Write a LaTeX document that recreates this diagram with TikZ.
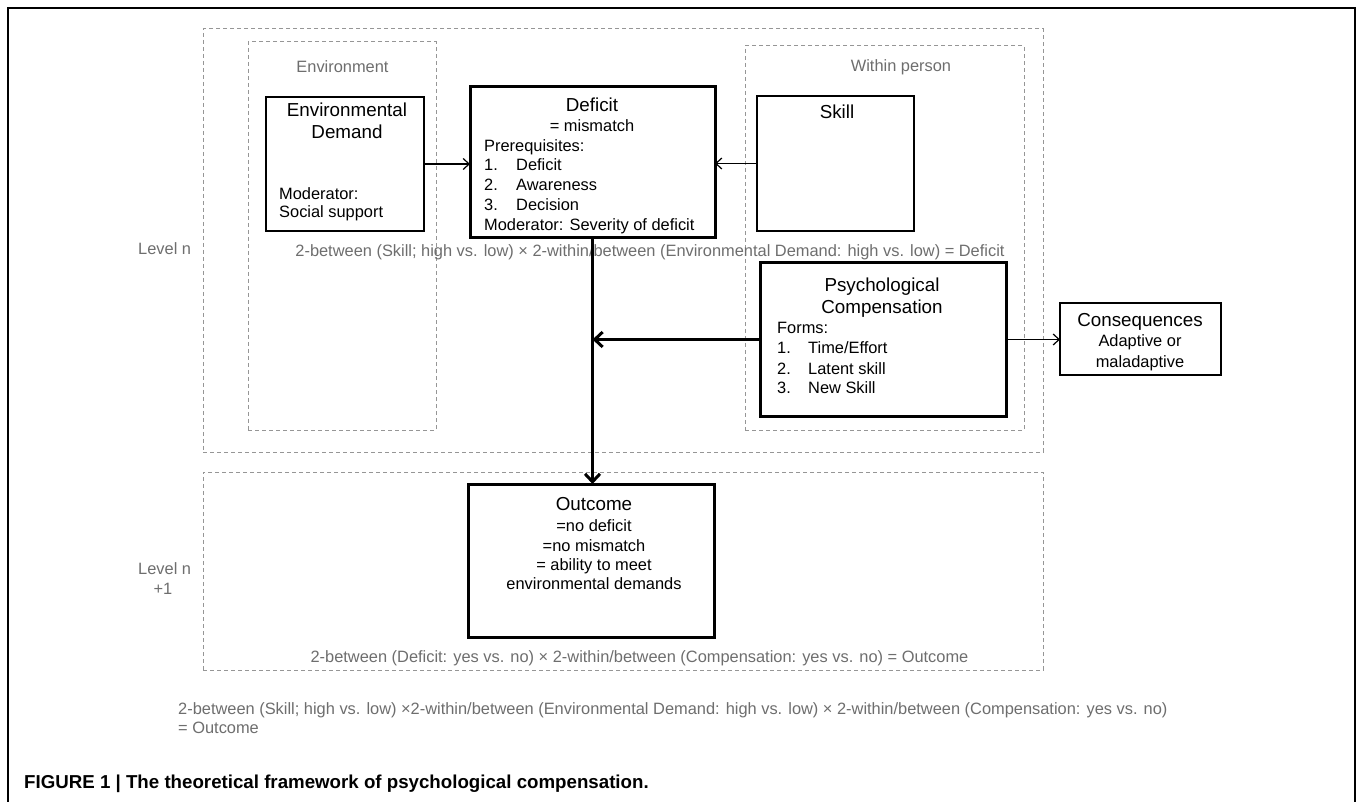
\documentclass[tikz,border=0pt]{standalone}
\usepackage{fontspec}
\setmainfont{Liberation Sans}
\usetikzlibrary{arrows.meta}
\definecolor{lblgray}{RGB}{110,110,110}
\definecolor{dashgray}{RGB}{150,150,150}
\begin{document}
\begin{tikzpicture}[x=1pt,y=-1pt,
  dbox/.style={draw=dashgray, line width=1pt, dash pattern=on 4pt off 3pt, inner sep=0pt, outer sep=0pt},
  thinbox/.style={draw=black, line width=1.2pt, inner sep=0pt, outer sep=0pt},
  thickbox/.style={draw=black, line width=3pt, inner sep=0pt, outer sep=0pt},
  title/.style={font=\fontsize{18.8}{22}\selectfont, anchor=base, inner sep=0pt},
  body/.style={font=\fontsize{16.4}{19}\selectfont, anchor=base, inner sep=0pt},
  bodyl/.style={body, anchor=base west},
  glabel/.style={font=\fontsize{16.4}{19}\selectfont, text=lblgray, anchor=base, inner sep=0pt},
  glabell/.style={glabel, anchor=base west},
  thinarrow/.style={line width=1.2pt, -{Straight Barb[length=6pt,width=11pt]}},
  thickarrow/.style={line width=3pt, -{Straight Barb[length=8pt,width=15pt]}},
]
\useasboundingbox (0,0) rectangle (1358,802);
\fill[white] (0,0) rectangle (1358,802);
% outer frame
\draw[line width=2.2pt] (8,830) -- (8,8) -- (1355,8) -- (1355,830);

% dashed containers
\node[dbox, minimum width=840pt, minimum height=423pt] (leveln) at (623,240.5) {};
\node[dbox, minimum width=840pt, minimum height=198pt] (levelnn) at (623,571) {};
\node[dbox, minimum width=188pt, minimum height=388pt] (env) at (342,236) {};
\node[dbox, minimum width=279pt, minimum height=384pt] (within) at (884.5,238) {};

% gray labels
\node[glabel] (envlbl) at (342.5,73) {Environment};
\node[glabel] (withinlbl) at (901,72) {Within person};
\node[glabell] (lvl1) at (138,255) {Level n};
\node[glabell] (lvl2a) at (138,574) {Level n};
\node[glabel] (lvl2b) at (163,594) {+1};
\node[glabel] (f1) at (650,257) {2-between (Skill; high vs. low) × 2-within/between (Environmental Demand: high vs. low) = Deficit};
\node[glabel] (f2) at (639.5,662) {2-between (Deficit: yes vs. no) × 2-within/between (Compensation: yes vs. no) = Outcome};
\node[glabell] (f3a) at (178,714) {2-between (Skill; high vs. low) ×2-within/between (Environmental Demand: high vs. low) × 2-within/between (Compensation: yes vs. no)};
\node[glabell] (f3b) at (178,733) {= Outcome};

% boxes
\node[thinbox, minimum width=158pt, minimum height=134pt] (envd) at (345,164) {};
\node[thickbox, minimum width=245pt, minimum height=151pt] (deficit) at (592.5,162.5) {};
\node[thinbox, minimum width=157pt, minimum height=135pt] (skill) at (835.5,163.5) {};
\node[thickbox, minimum width=246pt, minimum height=153pt] (psych) at (883,339.5) {};
\node[thinbox, minimum width=161pt, minimum height=72pt] (conseq) at (1140.5,339) {};
\node[thickbox, minimum width=246pt, minimum height=153pt] (outcome) at (591,560.5) {};

% Environmental Demand text
\node[title] (envdt1) at (347,117) {Environmental};
\node[title] (envdt2) at (347,139) {Demand};
\node[bodyl] (envdm1) at (279,200) {Moderator:};
\node[bodyl] (envdm2) at (279,218) {Social support};

% Deficit text
\node[title] (deft) at (592,112) {Deficit};
\node[body] (defm) at (592,132) {= mismatch};
\node[bodyl] (defp) at (484,152) {Prerequisites:};
\node[bodyl] (defn1) at (484,171) {1.};
\node[bodyl] (defi1) at (516,171) {Deficit};
\node[bodyl] (defn2) at (484,191) {2.};
\node[bodyl] (defi2) at (516,191) {Awareness};
\node[bodyl] (defn3) at (484,211) {3.};
\node[bodyl] (defi3) at (516,211) {Decision};
\node[bodyl] (defmod) at (484,231) {Moderator: Severity of deficit};

% Skill text
\node[title] (skillt) at (837,119) {Skill};

% Psychological Compensation text
\node[title] (pst1) at (882,292) {Psychological};
\node[title] (pst2) at (882,314) {Compensation};
\node[bodyl] (psf) at (777,334) {Forms:};
\node[bodyl] (psn1) at (777,354) {1.};
\node[bodyl] (psi1) at (808,354) {Time/Effort};
\node[bodyl] (psn2) at (777,374) {2.};
\node[bodyl] (psi2) at (808,374) {Latent skill};
\node[bodyl] (psn3) at (777,393) {3.};
\node[bodyl] (psi3) at (808,393) {New Skill};

% Consequences text
\node[title] (cst) at (1140,327) {Consequences};
\node[body] (cs1) at (1140,347) {Adaptive or};
\node[body] (cs2) at (1140,367) {maladaptive};

% Outcome text
\node[title] (oct) at (594,510) {Outcome};
\node[body] (oc1) at (594,531) {=no deficit};
\node[body] (oc2) at (594,551) {=no mismatch};
\node[body] (oc3) at (594,570) {= ability to meet};
\node[body] (oc4) at (594,589) {environmental demands};

% connectors
\draw[thinarrow] (envd.east) -- (envd.east -| deficit.west);
\draw[thinarrow] (skill.west) -- (skill.west -| deficit.east);
\draw[thickarrow] (deficit.south) -- (deficit.south |- outcome.north);
\draw[thickarrow] (psych.west) -- (psych.west -| deficit.south);
\draw[thinarrow] (psych.east) -- (psych.east -| conseq.west);

% caption
\node[font=\fontsize{18.7}{22}\selectfont\bfseries, anchor=base west, inner sep=0pt] (caption) at (24,788) {FIGURE 1 | The theoretical framework of psychological compensation.};
\end{tikzpicture}
\end{document}
